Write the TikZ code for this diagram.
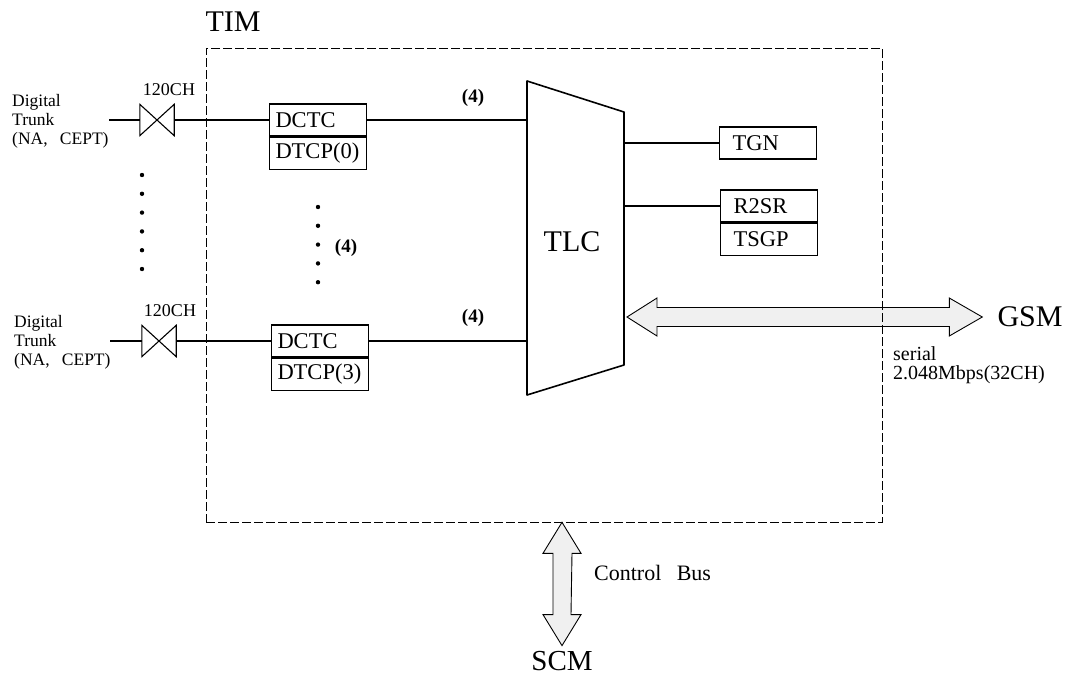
\documentclass[tikz,border=0pt]{standalone}
\usepackage{fontspec}
\setmainfont{Liberation Serif}
\usetikzlibrary{positioning,calc}
\tikzset{
  unit_box/.style = {draw=black, line width=1.1pt, inner sep=0pt, inner xsep=6pt,
    minimum height=32pt, text width=85pt, align=left,
    font=\fontsize{22.5}{26}\selectfont},
  side_box/.style = {unit_box, inner xsep=13pt, text width=71pt},
  vt/.style = {minimum width=34pt, minimum height=31pt, inner sep=0pt},
  conn/.style = {line width=1.1pt},
  big_lbl/.style = {inner sep=0pt, font=\fontsize{30}{34}\selectfont},
  trunk_lbl/.style = {align=left, inner sep=0pt, font=\fontsize{17.5}{19}\selectfont},
  ch_lbl/.style = {inner sep=0pt, font=\fontsize{18}{20}\selectfont},
  num_lbl/.style = {inner sep=0pt, font=\fontsize{19}{20}\selectfont\bfseries},
  txt_lbl/.style = {inner sep=0pt, align=left, font=\fontsize{20}{19}\selectfont},
  fat_arrow/.style = {draw=black, line width=0.9pt, fill=gray!12, line join=miter},
  tim_box/.style = {draw=black, line width=0.6pt, dash pattern=on 9pt off 3pt,
    minimum width=676pt, minimum height=474pt, inner sep=0pt}}

\begin{document}
\begin{tikzpicture}[x=1pt,y=-1pt]
\useasboundingbox (0,0) rectangle (1076,678);

% trunks
\node[trunk_lbl, anchor=west] (dt0) at (12,121) {Digital\\Trunk\\(NA,\hspace{0.7em}CEPT)};
\node[trunk_lbl, anchor=west] (dt3) at (14,342) {Digital\\Trunk\\(NA,\hspace{0.7em}CEPT)};
\coordinate (in0) at (109,120);
\coordinate (in3) at (110,341);
\node[vt] (vt0) at (157,120) {};
\node[vt] (vt3) at (159,341) {};
\node[ch_lbl] (ch0) at (169,90) {120CH};
\node[ch_lbl] (ch3) at (170,311) {120CH};
\foreach \v in {vt0,vt3}
  \draw[conn] (\v.north west) -- (\v.south east) -- (\v.north east) -- (\v.south west) -- cycle;
\foreach \i in {0,...,5}
  \fill (142,{175+18.8*\i}) circle (2.2pt);

% DCTC / DTCP
\node[unit_box] (dctc0) at (318,120) {DCTC};
\node[unit_box, below=0pt of dctc0] (dtcp0) {DTCP(0)};
\node[unit_box] (dctc3) at (320,341) {DCTC};
\node[unit_box, below=0pt of dctc3] (dtcp3) {DTCP(3)};
\foreach \i in {0,...,4}
  \fill (318,{207+18.8*\i}) circle (2.2pt);
\node[num_lbl] (n1) at (346,248) {(4)};

\draw[conn] (in0) -- (vt0.west);
\draw[conn] (vt0.east) -- (dctc0.west);
\draw[conn] (in3) -- (vt3.west);
\draw[conn] (vt3.east) -- (dctc3.west);

% TLC
\coordinate (tlc_tl) at (527,81);
\coordinate (tlc_tr) at (624,112);
\coordinate (tlc_br) at (624,365);
\coordinate (tlc_bl) at (527,395);
\draw[line width=1.6pt, line join=round] (tlc_tl) -- (tlc_tr) -- (tlc_br) -- (tlc_bl) -- cycle;
\node[big_lbl] (tlc) at (572,242) {TLC};

\draw[conn] (dctc0.east) -- (dctc0.east -| tlc_tl);
\draw[conn] (dctc3.east) -- (dctc3.east -| tlc_tl);
\node[num_lbl] (n0) at (473,98) {(4)};
\node[num_lbl] (n3) at (473,318) {(4)};

\node[side_box] (tgn) at (768,143) {TGN};
\node[side_box] (r2sr) at (769,206) {R2SR};
\node[side_box, below=0pt of r2sr] (tsgp) {TSGP};
\draw[conn] (tgn.west -| tlc_tr) -- (tgn.west);
\draw[conn] (r2sr.west -| tlc_tr) -- (r2sr.west);

% GSM / SCM links
\node[big_lbl] (gsm) at (1030,317) {GSM};
\node[big_lbl, anchor=base, text depth=0pt, font=\fontsize{29}{32}\selectfont] (scm) at (562,670) {SCM};
\coordinate (ga) at ($(tlc_tr |- gsm)+(3,0)$);
\coordinate (gb) at ($(gsm.west)+(-15,0)$);
\draw[fat_arrow] (ga) -- ++(30,-19) -- ++(0,9.5) -- ($(gb)+(-33,-9.5)$) -- ++(0,-9.5)
  -- (gb) -- ++(-33,19) -- ++(0,-9.5) -- ($(ga)+(30,9.5)$) -- ++(0,9.5) -- cycle;
\node[txt_lbl, anchor=west] (ser) at (893,365) {serial\\2.048Mbps(32CH)};

\node[tim_box] (tim) at (544,285) {};
\node[big_lbl] (timl) at (233,22) {TIM};

\coordinate (ca) at (tim.south -| scm);
\coordinate (cb) at ($(scm.north)+(0,-5)$);
\draw[fat_arrow] (ca) -- ++(19,31) -- ++(-9,0) -- ($(cb)+(9,-31)$) -- ++(10,0)
  -- (cb) -- ++(-19,-31) -- ++(10,0) -- ($(ca)+(-9,31)$) -- ++(-10,0) -- cycle;
\node[txt_lbl, anchor=west, font=\fontsize{22}{24}\selectfont] (cbus) at (594,573) {Control\hspace{0.7em}Bus};
\end{tikzpicture}
\end{document}
